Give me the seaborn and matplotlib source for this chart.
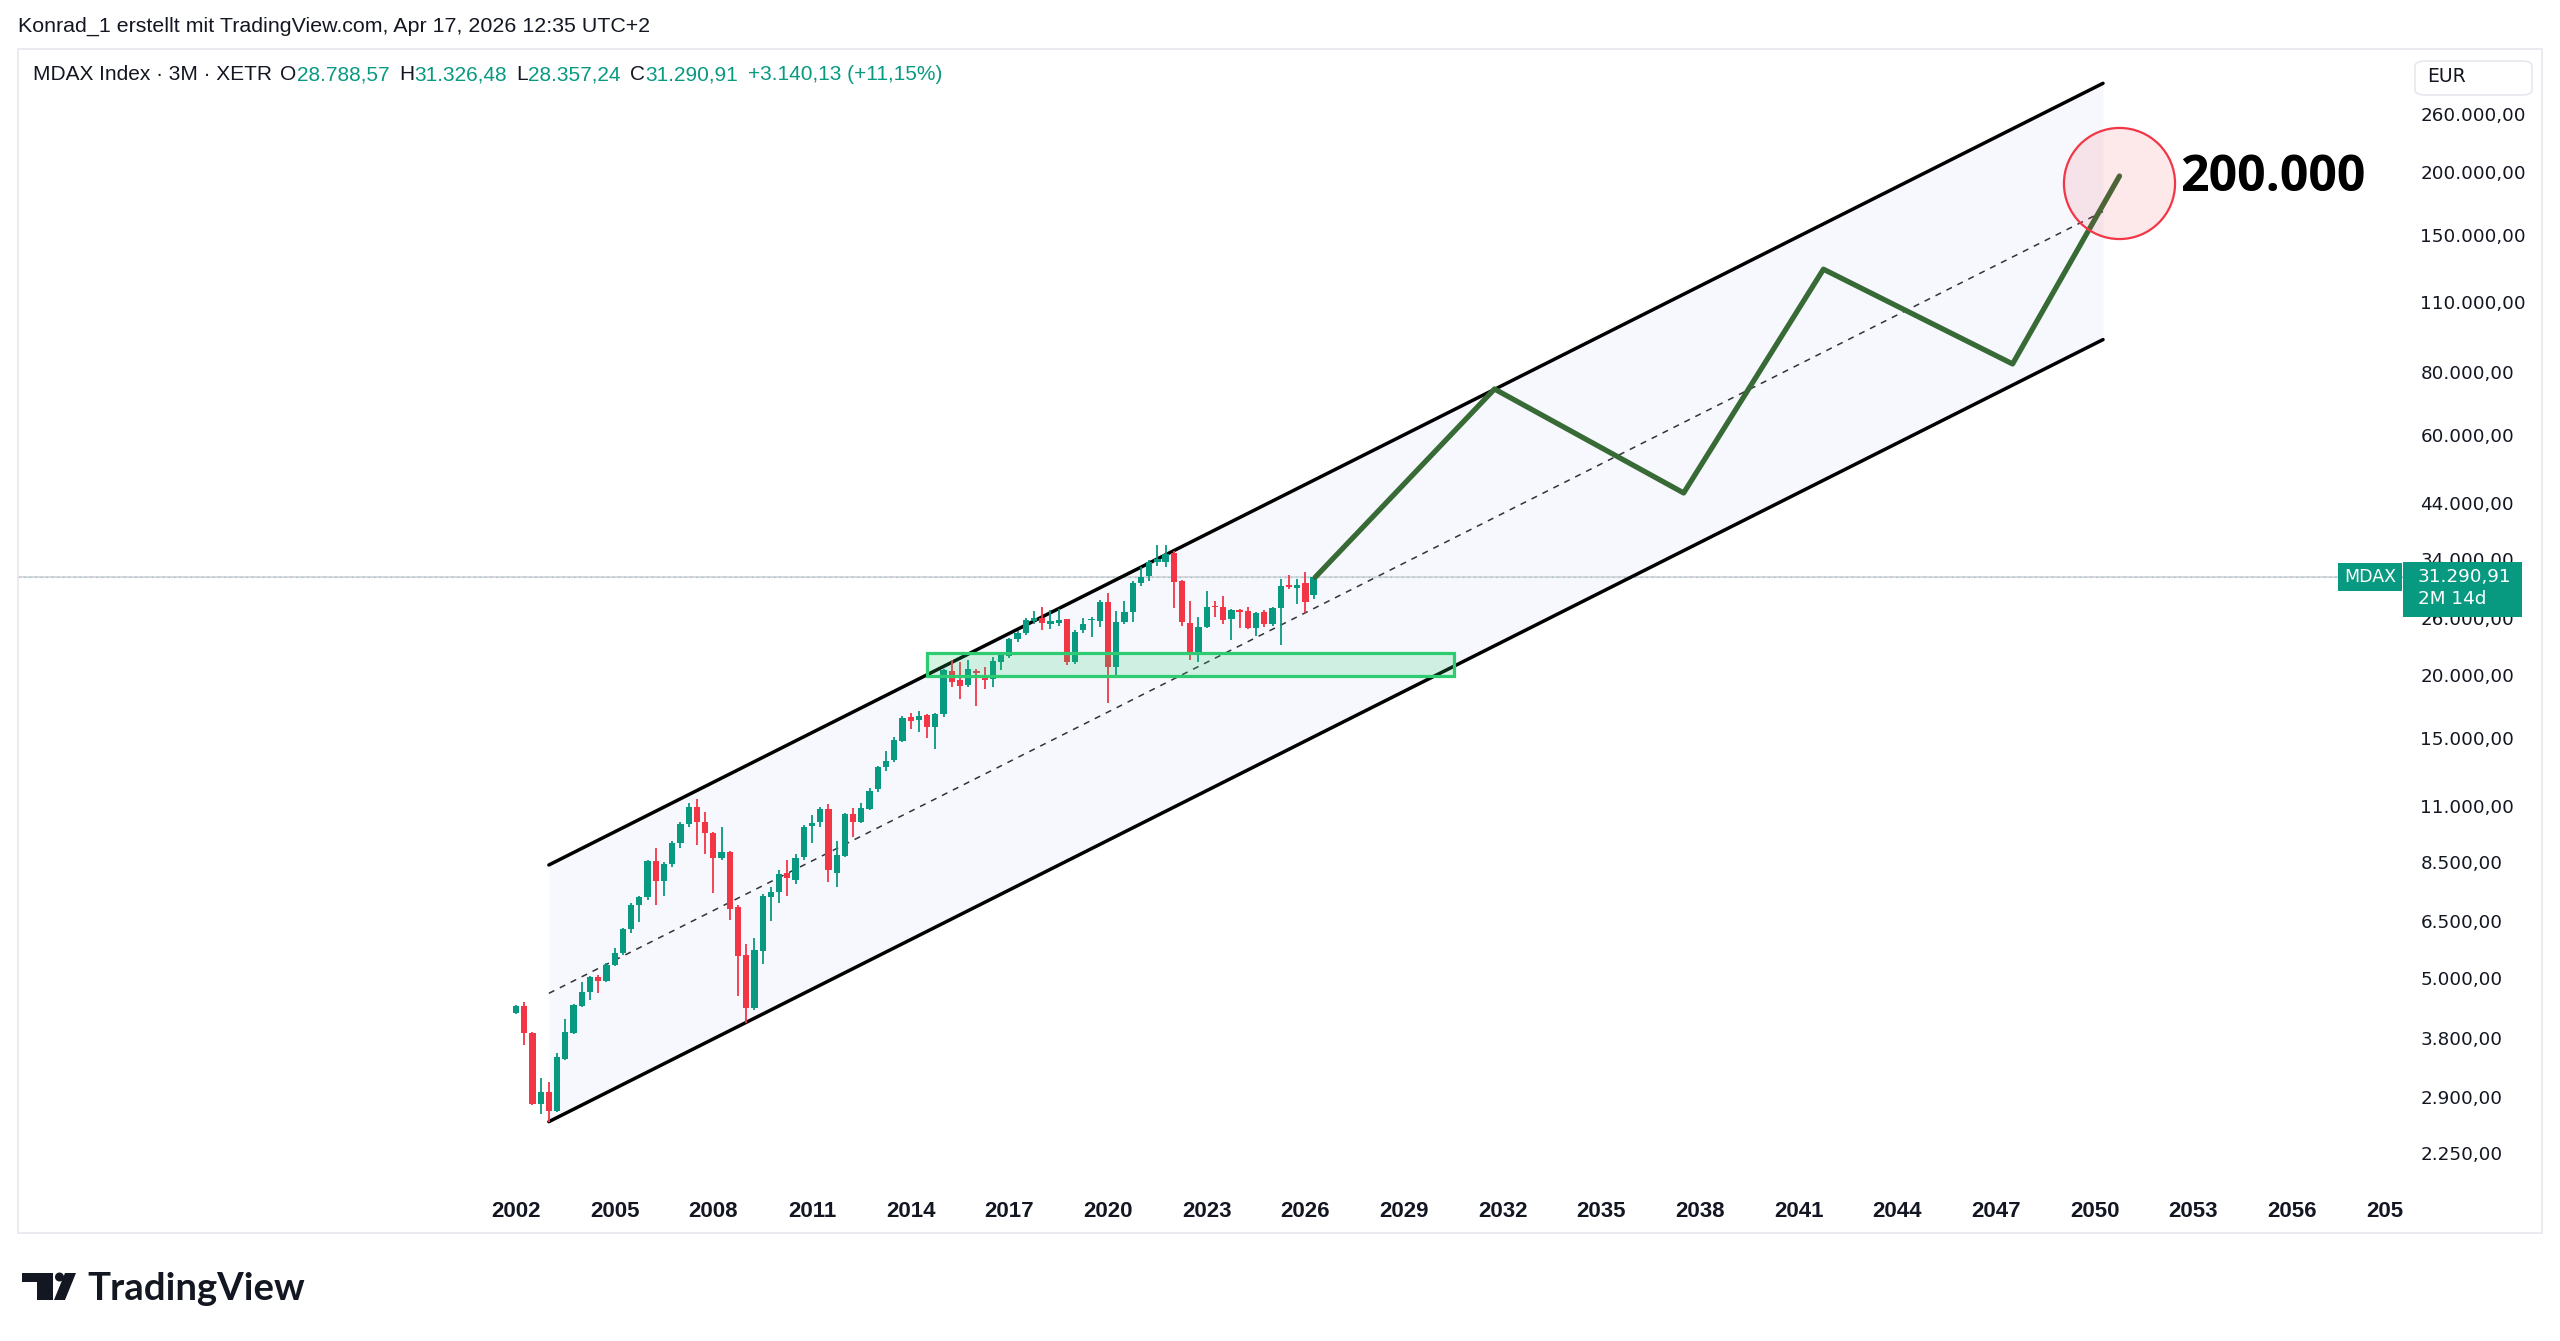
import numpy as np
import pandas as pd
import matplotlib
matplotlib.use('Agg')
import matplotlib.pyplot as plt
import matplotlib.patches as mpatches
from matplotlib.transforms import Bbox, TransformedBbox
from matplotlib.ticker import NullLocator
import seaborn as sns

# MDAX quarterly candles, Q1 2002 .. Q2 2026
quarters = pd.period_range('2002Q1', '2026Q2', freq='Q')
opens = [4256, 4397, 3884, 2811, 2974, 2723, 3460, 3884, 4400, 4692,
         5032, 4934, 5309, 5601, 6261, 6988, 7237, 8555, 7797, 8426,
         9289, 10106, 10913, 10199, 9698, 8650, 8890, 6912, 5557, 4355,
         5670, 7258, 7405, 8080, 7840, 8690, 10030, 10200, 10850, 8080,
         8750, 10573, 10199, 10845, 11870, 13150, 13560, 14810, 16480, 16270,
         16640, 15800, 16770, 20410, 19560, 19100, 20410, 20000, 19620, 21260,
         21850, 23560, 24210, 25600, 26000, 25230, 25340, 25810, 21260, 24580,
         25740, 25660, 27980, 20770, 25530, 26730, 30510, 31440, 33600, 33600,
         34930, 30790, 25410, 22050, 24950, 27420, 27340, 25810, 26940, 26810,
         24800, 26730, 25230, 27140, 30190, 29840, 30420, 28788.57]
highs = [4420, 4488, 3900, 3162, 3104, 3546, 4141, 4440, 4917, 5060,
         5080, 5350, 5731, 6280, 7050, 7280, 8600, 9054, 8500, 9350,
         10200, 11116, 11337, 10676, 9750, 9968, 8950, 6988, 5840, 5998,
         7350, 7600, 8200, 8580, 8840, 10060, 10550, 10950, 11080, 9370,
         10650, 10876, 11120, 11950, 13200, 14140, 15080, 16550, 16800, 16930,
         16720, 16800, 20550, 21430, 21260, 21430, 20600, 20720, 21770, 22150,
         23700, 24500, 26000, 26820, 27260, 26900, 27020, 25900, 24550, 25930,
         26100, 28130, 29130, 26820, 28100, 30700, 32820, 33900, 36300, 36250,
         35200, 30950, 28110, 26040, 29420, 28000, 28700, 27100, 27100, 27260,
         26700, 26900, 27300, 31100, 31560, 31000, 32050, 31326.48]
lows = [4237, 3681, 2800, 2682, 2593, 2710, 3433, 3870, 4390, 4525,
        4666, 4920, 5280, 5560, 6150, 6470, 7150, 6988, 7290, 8300,
        9054, 10000, 9192, 8823, 7391, 8600, 6511, 4607, 4077, 4320,
        5341, 6500, 7038, 7290, 7700, 8600, 9263, 10000, 7778, 7577,
        8700, 9548, 10150, 10800, 11700, 12900, 13450, 14750, 15660, 15430,
        14980, 14230, 16500, 18940, 17910, 18900, 17330, 18760, 18940, 20500,
        21650, 23250, 24050, 25300, 24600, 24700, 25000, 20930, 21000, 24250,
        23850, 24900, 17570, 20000, 25300, 25530, 30000, 30700, 33000, 32820,
        27140, 25000, 21400, 21260, 24800, 26100, 25300, 23440, 24800, 24650,
        23900, 24950, 25000, 22950, 29650, 27740, 26600, 28357.24]
closes = [4397, 3884, 2811, 2974, 2723, 3482, 3913, 4421, 4692, 5032,
          4934, 5309, 5601, 6261, 6988, 7237, 8555, 7797, 8426, 9289,
          10106, 10913, 10199, 9725, 8650, 8916, 6861, 5532, 4355, 5686,
          7281, 7405, 8049, 7900, 8650, 10000, 10180, 10850, 8198, 8777,
          10573, 10199, 10876, 11787, 13113, 13520, 14860, 16407, 16220, 16590,
          15800, 16720, 20470, 19400, 19030, 20530, 20170, 19560, 21360, 21950,
          23560, 24210, 25740, 26000, 25340, 25580, 25740, 21260, 24390, 25230,
          25800, 27980, 20770, 25530, 26730, 30510, 31350, 33600, 34000, 34800,
          30560, 25490, 22050, 24870, 27340, 27260, 25740, 26940, 26730, 24800,
          26530, 25230, 27140, 30100, 29970, 30190, 27900, 31290.91]
last_price = 31290.91
change_text = '+3.140,13 (+11,15%)'

# drawings
channel_x = [2003.0, 2050.25]
channel_upper = [8390, 299600]
channel_lower = [2593, 92770]
zone_x = [2014.49, 2030.52]
zone_y = [19950, 22090]
proj_x = [2026.3, 2031.75, 2037.5, 2041.75, 2047.5, 2050.75]
proj_y = [31290, 74000, 46000, 128000, 83000, 196000]
target_x, target_y = 2050.75, 190000
target_label = '200.000'

price_ticks = [2250, 2900, 3800, 5000, 6500, 8500, 11000, 15000, 20000, 26000,
               34000, 44000, 60000, 80000, 110000, 150000, 200000, 260000]
year_ticks = list(range(2002, 2060, 3))

W, H = 2560, 1341
UP, DOWN = '#089981', '#f23645'
INK = '#131722'

sns.set_theme(style='white')
plt.rcParams['font.family'] = ['Liberation Sans', 'DejaVu Sans']


def fx(px):
    return px / W


def fy(py):
    return 1 - py / H


def de_fmt(v, dec=2):
    s = f'{v:,.{dec}f}'
    return s.replace(',', 'X').replace('.', ',').replace('X', '.')


fig = plt.figure(figsize=(W / 100, H / 100), dpi=100, facecolor='white')
ax = fig.add_axes([fx(18), fy(1186), fx(2403 - 18), (1186 - 49) / H])
ax.set_facecolor('white')
ax.set_yscale('log')
ax.set_xlim(1986.86, 2059.37)
ax.set_ylim(1932, 350500)
for s in ax.spines.values():
    s.set_visible(False)
ax.grid(False)

# channel
ax.fill_between(channel_x, channel_lower, channel_upper, color='#f7f8fe', lw=0, zorder=0.5)
chan = pd.DataFrame({'x': channel_x * 2,
                     'y': channel_upper + channel_lower,
                     'edge': ['upper'] * 2 + ['lower'] * 2})
sns.lineplot(data=chan, x='x', y='y', units='edge', estimator=None, color='black',
             lw=2.5, ax=ax, zorder=2, legend=False)
mid = np.sqrt(np.array(channel_upper) * np.array(channel_lower))
ax.plot(channel_x, mid, color='#333333', lw=1.1, ls=(0, (4, 4)), zorder=2)

# price lines
ax.axhline(last_price, color='#d3d5db', lw=1.3, zorder=1)
ax.axhline(last_price, color=UP, lw=1.0, ls=(0, (1, 3)), alpha=0.3, zorder=1.1)

# candles
xq = np.array([q.year + (q.quarter - 1) / 4 for q in quarters])
o, hi, lo, c = map(np.array, (opens, highs, lows, closes))
cols = np.where(c >= o, UP, DOWN)
b_lo = np.minimum(o, c)
b_hi = np.maximum(np.maximum(o, c), b_lo * 1.006)
ax.vlines(xq, lo, hi, colors=cols, lw=1.3, zorder=3)
ax.bar(xq, b_hi - b_lo, bottom=b_lo, width=0.19, color=cols, lw=0, zorder=4)

# support zone
ax.add_patch(mpatches.Rectangle((zone_x[0], zone_y[0]), zone_x[1] - zone_x[0], zone_y[1] - zone_y[0],
                                facecolor=(0.18, 0.8, 0.44, 0.2), edgecolor='#2ecc71', lw=2.3, zorder=5))

# projection
proj = pd.DataFrame({'x': proj_x, 'y': proj_y})
sns.lineplot(data=proj, x='x', y='y', sort=False, estimator=None, color='#386a35',
             lw=3.8, ax=ax, zorder=6, solid_capstyle='round', solid_joinstyle='round')
ax.plot([target_x], [target_y], marker='o', ms=80, mew=1.6,
        mfc=(0.95, 0.21, 0.27, 0.11), mec='#f23645', zorder=7)
ax.text(2052.6, 194500, target_label, fontsize=36, fontweight='bold',
        family=['Open Sans', 'DejaVu Sans'], color='black', va='center', ha='left', zorder=8)

# axes ticks
ax.set_xlabel('')
ax.set_ylabel('')
ax.yaxis.set_minor_locator(NullLocator())
ax.set_yticks(price_ticks, labels=[de_fmt(v) for v in price_ticks])
ax.tick_params(axis='y', which='both', length=0, pad=12.5, labelright=True, labelleft=False,
               labelsize=13.2, labelcolor=INK)
for t in ax.get_yticklabels():
    t.set_family(['DejaVu Sans'])
ax.set_xticks(year_ticks, labels=[str(y) for y in year_ticks])
ax.tick_params(axis='x', length=0, pad=11, labelsize=16, labelcolor=INK)
clipbb = TransformedBbox(Bbox.from_extents(0, 0, fx(2403), 1), fig.transFigure)
for tk in ax.xaxis.get_major_ticks():
    tk.label1.set_fontweight('bold')
    tk.label1.set_clip_box(clipbb)
    tk.label1.set_clip_on(True)

# outer frame
fig.patches.append(mpatches.Rectangle((fx(18), fy(1233)), fx(2542 - 18), (1233 - 49) / H,
                                      transform=fig.transFigure, fill=False,
                                      edgecolor='#e6e8ee', lw=1.2, zorder=0))

# header texts
fig.text(fx(18), fy(26), 'Konrad_1 erstellt mit TradingView.com, Apr 17, 2026 12:35 UTC+2',
         fontsize=15.4, color=INK, va='center', ha='left')
prev = fig.text(fx(33), fy(75), 'MDAX Index · 3M · XETR', fontsize=15, color=INK,
                va='center', ha='left')
legend_bits = [('O', INK, 6), (de_fmt(opens[-1]), UP, 0), ('H', INK, 7), (de_fmt(highs[-1]), UP, 0),
               ('L', INK, 7), (de_fmt(lows[-1]), UP, 0), ('C', INK, 7), (de_fmt(closes[-1]), UP, 0),
               (change_text, UP, 7)]
for txt, col, gap in legend_bits:
    prev = ax.annotate(txt, xy=(1, 0.5), xycoords=prev, xytext=(gap, 0), textcoords='offset points',
                       fontsize=15, color=col, va='center', ha='left', annotation_clip=False)

# currency box
fig.patches.append(mpatches.FancyBboxPatch((fx(2415), fy(95)), fx(117), 34 / H,
                                           boxstyle='round,pad=0.0,rounding_size=0.004',
                                           transform=fig.transFigure, facecolor='white',
                                           edgecolor='#e6e8ee', lw=1.2))
fig.text(fx(2427), fy(77), 'EUR', fontsize=13.5, family=['DejaVu Sans'], color=INK,
         va='center', ha='left')

# last price labels
fig.canvas.draw()
py = H - ax.transData.transform((2026, last_price))[1]
fig.patches.append(mpatches.Rectangle((fx(2338), fy(py + 14)), fx(64), 28 / H,
                                      transform=fig.transFigure, facecolor=UP, lw=0, zorder=5))
fig.patches.append(mpatches.Rectangle((fx(2403), fy(py + 40)), fx(119), 55 / H,
                                      transform=fig.transFigure, facecolor=UP, lw=0, zorder=5))
fig.text(fx(2370), fy(py), 'MDAX', fontsize=12.5, family=['DejaVu Sans'], color='white',
         va='center', ha='center', zorder=6)
fig.text(fx(2418), fy(py), de_fmt(last_price), fontsize=13.2, family=['DejaVu Sans'],
         color='white', va='center', ha='left', zorder=6)
fig.text(fx(2418), fy(py + 22), '2M 14d', fontsize=13.2, family=['DejaVu Sans'],
         color='white', va='center', ha='left', zorder=6)

# TradingView logo
logo = '#131722'
fig.patches.append(mpatches.Polygon([(fx(22), fy(1273)), (fx(53), fy(1273)), (fx(53), fy(1300)),
                                     (fx(37), fy(1300)), (fx(37), fy(1282)), (fx(22), fy(1282))],
                                    closed=True, transform=fig.transFigure, facecolor=logo, lw=0))
fig.patches.append(mpatches.Ellipse((fx(59.5), fy(1277)), fx(9), 9 / H,
                                    transform=fig.transFigure, facecolor=logo, lw=0))
fig.patches.append(mpatches.Polygon([(fx(65), fy(1273)), (fx(76), fy(1273)), (fx(65), fy(1300)),
                                     (fx(54), fy(1300))],
                                    closed=True, transform=fig.transFigure, facecolor=logo, lw=0))
fig.text(fx(87), fy(1300), 'TradingView', fontsize=27.5, fontweight='bold',
         family=['Lato', 'DejaVu Sans'], color=logo, va='baseline', ha='left')

fig.savefig('out.png', dpi=100, facecolor='white')
